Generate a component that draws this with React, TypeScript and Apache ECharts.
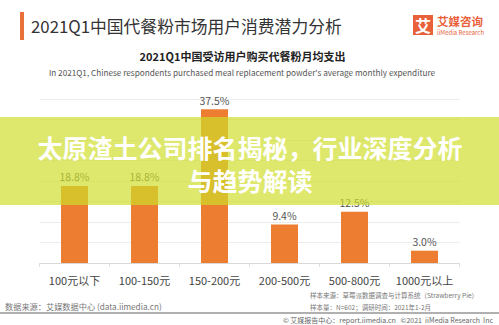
import React, { useEffect, useRef } from "react";
import * as echarts from "echarts";

const categories = ["100元以下", "100-150元", "150-200元", "200-500元", "500-800元", "1000元以上"];
const shares = [18.8, 18.8, 37.5, 9.4, 12.5, 3.0];

const titleText = "2021Q1中国代餐粉市场用户消费潜力分析";
const subTitle = "2021Q1中国受访用户购买代餐粉月均支出";
const subTitleEn = "In 2021Q1, Chinese respondents purchased meal replacement powder's average monthly expenditure";
const overlayLine1 = "太原渣土公司排名揭秘，行业深度分析";
const overlayLine2 = "与趋势解读";
const sourceLeft = "数据来源：艾媒数据中心 (data.iimedia.cn)";
const sampleSource = "样本来源：草莓派数据调查与计算系统（Strawberry Pie）";
const sampleSize = "样本量：N=602；调研时间：2021年1-2月";
const copyright = "© 艾媒报告中心：report.iimedia.cn   ©2021  iiMedia Research  Inc";

const FONT = "'Noto Sans CJK SC', 'Noto Sans', sans-serif";

export default function App() {
  const ref = useRef<HTMLDivElement>(null);
  useEffect(() => {
    if (!ref.current) return;
    const chart = echarts.init(ref.current, null, { renderer: "svg" });
    chart.setOption({
      animation: false,
      backgroundColor: "#ffffff",
      textStyle: { fontFamily: FONT },
      grid: { left: 39.5, right: 39.5, top: 99, bottom: 62, containLabel: false },
      xAxis: {
        type: "category",
        data: categories,
        axisLine: { lineStyle: { color: "#d9d9d9" } },
        axisTick: { show: true, length: 4, lineStyle: { color: "#e0e0e0" } },
        axisLabel: { color: "#444", fontSize: 11, margin: 11, interval: 0, fontFamily: FONT },
      },
      yAxis: {
        type: "value",
        min: 0,
        max: 40,
        interval: 5,
        axisLabel: { show: false },
        axisLine: { show: false },
        axisTick: { show: false },
        splitLine: { lineStyle: { color: "#ececec" } },
      },
      series: [
        {
          type: "bar",
          data: shares,
          barWidth: 27,
          itemStyle: { color: "#ED7D31" },
          label: {
            show: true,
            position: "top",
            distance: 4,
            color: "#555",
            fontSize: 10.5,
            fontFamily: FONT,
            formatter: (p: any) => p.value.toFixed(1) + "%",
          },
        },
      ],
      graphic: [
        { type: "rect", z: 10, shape: { x: 20, y: 12, width: 4, height: 28 }, style: { fill: "#E8703A" } },
        {
          type: "text", z: 10, x: 31, y: 26,
          style: { text: titleText, fill: "#333", fontSize: 16.8, fontFamily: FONT, verticalAlign: "middle" },
        },
        { type: "rect", z: 10, shape: { x: 413, y: 15, width: 20, height: 20 }, style: { fill: "#E8613A" } },
        {
          type: "text", z: 11, x: 423, y: 25,
          style: { text: "艾", fill: "#fff", fontSize: 16, fontWeight: "bold", fontFamily: FONT, align: "center", verticalAlign: "middle" },
        },
        {
          type: "text", z: 10, x: 437, y: 20.5,
          style: { text: "艾媒咨询", fill: "#E8613A", fontSize: 11.5, lineHeight: 11.5, fontWeight: "bold", fontFamily: FONT, verticalAlign: "middle" },
        },
        {
          type: "text", z: 10, x: 437, y: 32.5,
          style: { text: "iiMedia Research", fill: "#E8613A", fontSize: 6, lineHeight: 6, fontFamily: FONT, verticalAlign: "middle" },
        },
        {
          type: "text", z: 10, x: 242.5, y: 56,
          style: { text: subTitle, fill: "#222", fontSize: 11, fontWeight: "bold", fontFamily: FONT, align: "center", verticalAlign: "middle" },
        },
        {
          type: "text", z: 10, x: 242, y: 72,
          style: { text: subTitleEn, fill: "#555", fontSize: 8.2, fontFamily: FONT, align: "center", verticalAlign: "middle" },
        },
        {
          type: "rect", z: 100, shape: { x: 0, y: 117, width: 499, height: 88 },
          style: { fill: "rgba(206,222,42,0.69)" },
        },
        {
          type: "text", z: 101, x: 250, y: 147,
          style: { text: overlayLine1, fill: "#fff", fontSize: 25, fontWeight: "bold", fontFamily: FONT, align: "center", verticalAlign: "middle" },
        },
        {
          type: "text", z: 101, x: 250, y: 180,
          style: { text: overlayLine2, fill: "#fff", fontSize: 25, fontWeight: "bold", fontFamily: FONT, align: "center", verticalAlign: "middle" },
        },
        {
          type: "text", z: 10, x: 5, y: 306,
          style: { text: sourceLeft, fill: "#777", fontSize: 8.2, fontFamily: FONT, verticalAlign: "middle" },
        },
        {
          type: "text", z: 10, x: 310, y: 295,
          style: { text: sampleSource, fill: "#777", fontSize: 6.5, fontFamily: FONT, verticalAlign: "middle" },
        },
        {
          type: "text", z: 10, x: 310, y: 307,
          style: { text: sampleSize, fill: "#777", fontSize: 6.5, fontFamily: FONT, verticalAlign: "middle" },
        },
        {
          type: "rect", z: 10, shape: { x: 0, y: 312, width: 499, height: 2 },
          style: { fill: "#b0b0b0" },
        },
        {
          type: "text", z: 10, x: 493, y: 319.5,
          style: { text: copyright, fill: "#666", fontSize: 7, fontFamily: FONT, align: "right", verticalAlign: "middle" },
        },
      ],
    });
    return () => chart.dispose();
  }, []);
  return (
    <div
      ref={ref}
      style={{ position: "fixed", left: 0, top: 0, width: 499, height: 325, background: "#fff" }}
    />
  );
}
